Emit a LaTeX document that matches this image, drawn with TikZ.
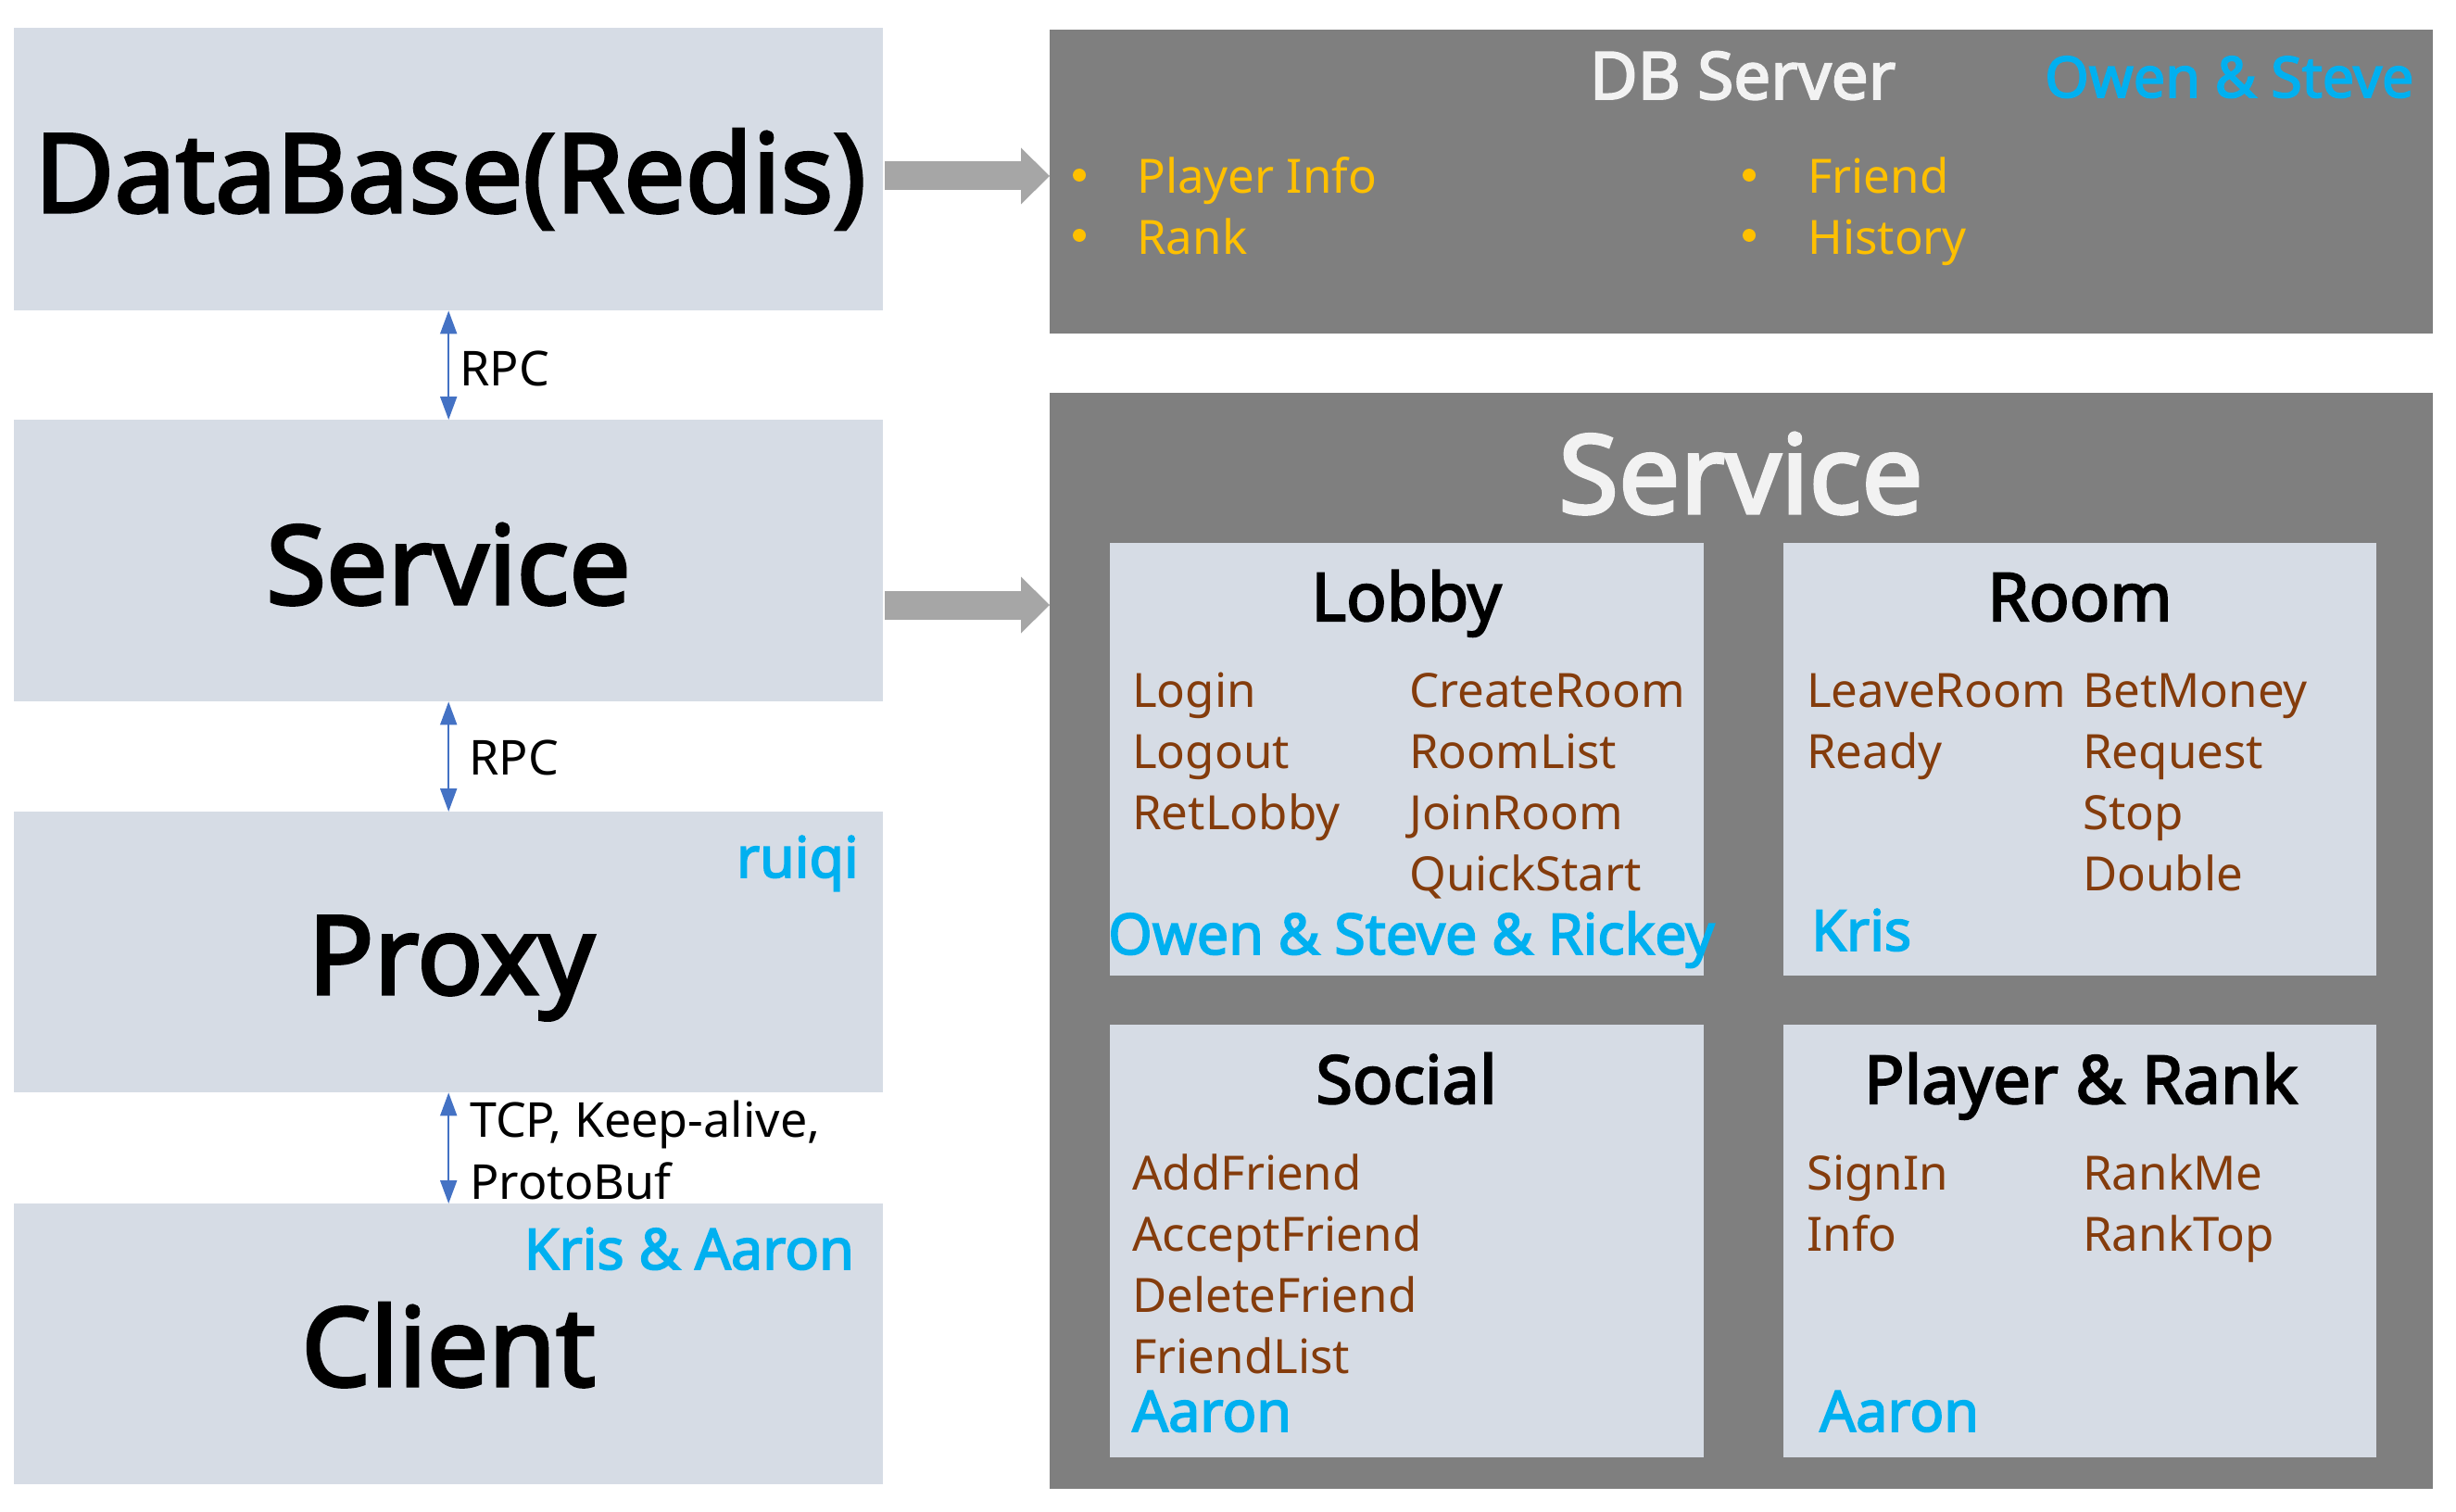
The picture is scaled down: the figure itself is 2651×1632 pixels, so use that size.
\documentclass[tikz,border=0pt]{standalone}
\usepackage{fontspec}
\setmainfont{Noto Sans}
\newfontfamily\bfam[FakeBold=2.8]{Noto Sans}
\usetikzlibrary{arrows.meta}
\definecolor{lbg}{HTML}{D6DCE5}
\definecolor{dgray}{HTML}{7F7F7F}
\definecolor{agray}{HTML}{A6A6A6}
\definecolor{cy}{HTML}{00B0F0}
\definecolor{yl}{HTML}{FFC000}
\definecolor{brn}{HTML}{843C0C}
\definecolor{wt}{HTML}{F2F2F2}
\definecolor{bl}{HTML}{4472C4}
\begin{document}
\begin{tikzpicture}[x=1pt,y=-1pt,
  lbox/.style={rectangle, fill=lbg, draw=none, inner sep=0pt, anchor=north west},
  gbox/.style={rectangle, fill=dgray, draw=none, inner sep=0pt, anchor=north west},
  bigtitle/.style={anchor=base, inner sep=0pt, font=\bfam\fontsize{118}{130}\selectfont},
  subtitle/.style={anchor=base, inner sep=0pt, font=\bfam\fontsize{72}{80}\selectfont},
  who/.style={inner sep=0pt, text=cy, font=\bfam\fontsize{61}{70}\selectfont},
  lbl/.style={anchor=base west, inner sep=0pt, font=\fontsize{52}{60}\selectfont},
  item/.style={anchor=base west, inner sep=0pt, text=brn, font=\fontsize{51}{60}\selectfont},
  dbitem/.style={anchor=base west, inner sep=0pt, text=yl, font=\fontsize{51}{60}\selectfont},
  bul/.style={circle, fill=yl, draw=none, inner sep=0pt, minimum size=14pt},
  rpc/.style={draw=bl, line width=2pt, {Triangle[length=25pt,width=18pt]}-{Triangle[length=25pt,width=18pt]}},
  bigarrow/.style={draw=agray, line width=31pt, -{Triangle[length=31pt,width=61pt,line width=0pt]}}
]
\useasboundingbox (0,0) rectangle (2651,1632);

% left column boxes
\node[lbox, minimum width=938pt, minimum height=305pt] (db) at (15,30) {};
\node[lbox, minimum width=938pt, minimum height=304pt] (svc) at (15,453) {};
\node[lbox, minimum width=938pt, minimum height=303pt] (proxy) at (15,876) {};
\node[lbox, minimum width=938pt, minimum height=303pt] (client) at (15,1299) {};

\node[bigtitle] (dbt) at (486,229) {DataBase(Redis)};
\node[bigtitle] (svct) at (484,652) {Service};
\node[bigtitle] (proxyt) at (487,1073) {Proxy};
\node[bigtitle] (clientt) at (484,1496) {Client};

\node[who, anchor=base east] (ruiqi) at (927,947) {ruiqi};
\node[who, anchor=base east] (krisaaron) at (922,1370) {Kris \& Aaron};

% rpc connectors
\draw[rpc] (db.south) -- (svc.north);
\draw[rpc] (svc.south) -- (proxy.north);
\draw[rpc] (proxy.south) -- (client.north);
\node[lbl] (rpc1) at (496,416) {RPC};
\node[lbl] (rpc2) at (506,836) {RPC};
\node[lbl] (tcp1) at (507,1227) {TCP, Keep-alive,};
\node[lbl] (tcp2) at (507,1294) {ProtoBuf};

% right: DB server
\node[gbox, minimum width=1493pt, minimum height=328pt] (dbsrv) at (1133,32) {};
\node[subtitle, text=wt, font=\bfam\fontsize{71}{80}\selectfont] (dbsrvt) at (1881,107) {DB Server};
\node[who, anchor=base west] (owensteve) at (2207,105) {Owen \& Steve};
\node[bul] (bu1) at (1165,189) {};
\node[bul] (bu2) at (1165,254) {};
\node[bul] (bu3) at (1888,189) {};
\node[bul] (bu4) at (1888,254) {};
\node[dbitem] (pinfo) at (1227,209) {Player Info};
\node[dbitem] (prank) at (1227,275) {Rank};
\node[dbitem] (pfriend) at (1951,209) {Friend};
\node[dbitem] (phist) at (1951,275) {History};

% right: Service
\node[gbox, minimum width=1493pt, minimum height=1183pt] (svcr) at (1133,424) {};
\node[bigtitle, text=wt] (svcrt) at (1879,554) {Service};

\node[lbox, minimum width=641pt, minimum height=467pt] (lobby) at (1198,586) {};
\node[lbox, minimum width=640pt, minimum height=467pt] (room) at (1925,586) {};
\node[lbox, minimum width=641pt, minimum height=467pt] (social) at (1198,1106) {};
\node[lbox, minimum width=640pt, minimum height=467pt] (plrank) at (1925,1106) {};

\node[subtitle] (lobbyt) at (1518,670) {Lobby};
\node[subtitle] (roomt) at (2245,670) {Room};
\node[subtitle] (socialt) at (1518,1191) {Social};
\node[subtitle] (plrankt) at (2246,1191) {Player \& Rank};

\foreach \t [count=\i from 0] in {Login,Logout,RetLobby}
  \node[item] (la\i) at (1222,763+66*\i) {\t};
\foreach \t [count=\i from 0] in {CreateRoom,RoomList,JoinRoom,QuickStart}
  \node[item] (lb\i) at (1521,763+66*\i) {\t};
\foreach \t [count=\i from 0] in {LeaveRoom,Ready}
  \node[item] (ra\i) at (1950,763+66*\i) {\t};
\foreach \t [count=\i from 0] in {BetMoney,Request,Stop,Double}
  \node[item] (rb\i) at (2248,763+66*\i) {\t};
\foreach \t [count=\i from 0] in {AddFriend,AcceptFriend,DeleteFriend,FriendList}
  \node[item] (sa\i) at (1222,1284+66*\i) {\t};
\foreach \t [count=\i from 0] in {SignIn,Info}
  \node[item] (pa\i) at (1950,1284+66*\i) {\t};
\foreach \t [count=\i from 0] in {RankMe,RankTop}
  \node[item] (pb\i) at (2248,1284+66*\i) {\t};

\node[who, anchor=base west] (lobbyw) at (1196,1030) {Owen \& Steve \& Rickey};
\node[who, anchor=base west] (roomw) at (1955,1026) {Kris};
\node[who, anchor=base west] (socialw) at (1222,1545) {Aaron};
\node[who, anchor=base west] (plrankw) at (1964,1545) {Aaron};

% big gray arrows
\coordinate (ya) at (0,190);
\coordinate (yb) at (0,653);
\draw[bigarrow] ([xshift=2pt]db.east |- ya) -- (dbsrv.west |- ya);
\draw[bigarrow] ([xshift=2pt]svc.east |- yb) -- (svcr.west |- yb);
\end{tikzpicture}
\end{document}
